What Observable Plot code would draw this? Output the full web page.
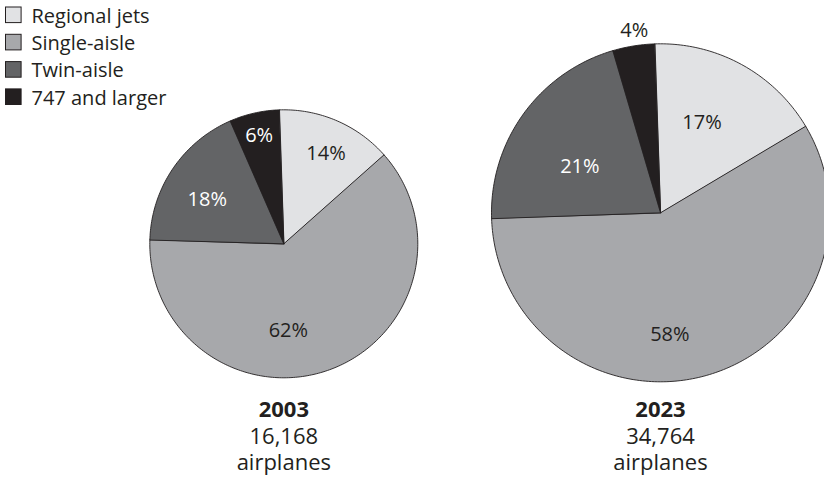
<!DOCTYPE html>
<html>
<head>
<meta charset="utf-8">
<script src="https://cdn.jsdelivr.net/npm/d3@7"></script>
<script src="https://cdn.jsdelivr.net/npm/@observablehq/plot@0.6"></script>
<style>
  html, body { margin: 0; padding: 0; background: #ffffff; overflow: hidden; }
  svg { display: block; font-family: "Open Sans", "Noto Sans", sans-serif; }
</style>
</head>
<body>
<div id="chart"></div>
<script>
// ---- data ----
const categories = ["Regional jets", "Single-aisle", "Twin-aisle", "747 and larger"];
const years = ["2003", "2023"];
const shares2003 = [14, 62, 18, 6];
const shares2023 = [17, 58, 21, 4];
const fleetSizes = ["16,168", "34,764"];
const unitLabel = "airplanes";

// ---- styling / layout ----
const colors = ["#e1e2e4", "#a7a8ab", "#636466", "#231f20"];
const ink = "#231f20";
const W = 824, H = 480;
const pies = [
  {cx: 283.3, cy: 243.3, r: 134},
  {cx: 660, cy: 212.3, r: 169}
];
const startDeg = -2;
const labelRadius = [[0.74, 0.65, 0.66, 0.83], [0.59, 0.72, 0.55, 1.09]];
const labelShift = [[2, 17, -4, 0], [-4, 12, -6, 1]];

const allShares = [shares2003, shares2023];
const rad = Math.PI / 180;
const pieGen = d3.pie().sort(null).value(d => d.value)
  .startAngle(startDeg * rad).endAngle(startDeg * rad + 2 * Math.PI);

const slicePts = [];
const labels = [];
allShares.forEach((shares, p) => {
  const {cx, cy, r} = pies[p];
  const arcs = pieGen(shares.map((v, i) => ({value: v, cat: categories[i]})));
  arcs.forEach((a, i) => {
    const id = years[p] + "-" + i;
    slicePts.push({id, cat: categories[i], x: cx, y: cy});
    const n = Math.max(2, Math.ceil((a.endAngle - a.startAngle) / rad));
    for (let k = 0; k <= n; k++) {
      const t = a.startAngle + (a.endAngle - a.startAngle) * k / n;
      slicePts.push({id, cat: categories[i], x: cx + r * Math.sin(t), y: cy - r * Math.cos(t)});
    }
    const mid = (a.startAngle + a.endAngle) / 2 + labelShift[p][i] * rad;
    const lr = labelRadius[p][i] * r;
    labels.push({
      x: cx + lr * Math.sin(mid), y: cy - lr * Math.cos(mid),
      text: shares[i] + "%",
      color: (i >= 2 && labelRadius[p][i] < 1) ? "#ffffff" : ink
    });
  });
});

const yearCaps = years.map((yr, p) => ({x: pies[p].cx, y: 409, text: yr}));
const countCaps = years.map((yr, p) => ({x: pies[p].cx, y: 425, text: fleetSizes[p] + "\n" + unitLabel}));

const legendRows = categories.map((c, i) => ({cat: c, i}));
const legendTop = 7, legendStep = 27.3, legendBox = 15.6;

const chart = Plot.plot({
  width: W, height: H,
  margin: 0,
  style: {background: "#ffffff", overflow: "hidden"},
  x: {domain: [0, W], range: [0, W], axis: null},
  y: {domain: [0, H], range: [0, H], axis: null},
  color: {domain: categories, range: colors},
  marks: [
    Plot.line(slicePts, {
      x: "x", y: "y", z: "id", fill: "cat", stroke: ink, strokeWidth: 0.9,
      curve: "linear-closed", strokeLinejoin: "round"
    }),
    Plot.text(labels, {
      x: "x", y: "y", text: "text", fill: d => d.color,
      fontSize: 20, textAnchor: "middle"
    }),
    Plot.text(yearCaps, {
      x: "x", y: "y", text: "text", fill: ink, fontSize: 22, fontWeight: "bold"
    }),
    Plot.text(countCaps, {
      x: "x", y: "y", text: "text", fill: ink, fontSize: 22,
      lineAnchor: "top", lineHeight: 1.18
    }),
    Plot.rect(legendRows, {
      x1: 5.5, x2: 5.5 + legendBox,
      y1: d => legendTop + d.i * legendStep,
      y2: d => legendTop + d.i * legendStep + legendBox,
      fill: "cat", stroke: ink, strokeWidth: 1
    }),
    Plot.text(legendRows, {
      x: 31, y: d => legendTop + d.i * legendStep + legendBox / 2 + 1,
      text: "cat", fill: ink, fontSize: 20, textAnchor: "start"
    })
  ]
});
document.getElementById("chart").appendChild(chart);
</script>
</body>
</html>
